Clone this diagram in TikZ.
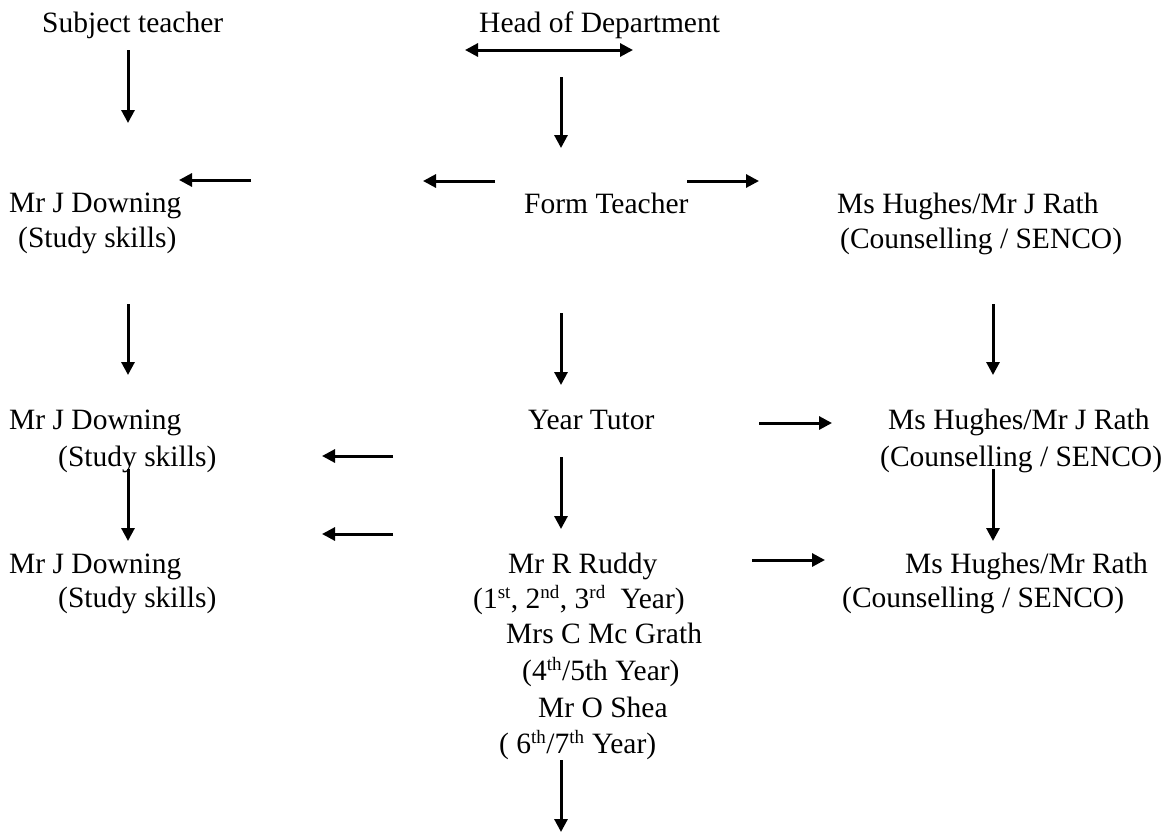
\documentclass[tikz,border=0pt]{standalone}
\usepackage{fontspec}
\setmainfont{Liberation Serif}
\usetikzlibrary{arrows.meta}

\newcommand{\supr}[1]{\textsuperscript{\fontsize{19}{19}\selectfont #1}}

\tikzset{
	lbl/.style={anchor=base west, inner sep=0pt, font=\fontsize{29.5}{35}\selectfont},
	arr/.style={line width=3pt, -{Triangle[length=13pt,width=13pt]}},
	darr/.style={line width=3pt, {Triangle[length=13pt,width=13pt]}-{Triangle[length=13pt,width=13pt]}},
}

\begin{document}
\begin{tikzpicture}[x=1pt, y=-1pt]
		\useasboundingbox (0, 0) rectangle (1161, 833);

		% texts
		\node[lbl] (subj) at (42, 32) {Subject teacher};
		\node[lbl] (hod) at (479, 32) {Head of Department};

		\node[lbl] (down1) at (9, 212) {Mr J Downing};
		\node[lbl] (study1) at (18, 247) {(Study skills)};
		\node[lbl] (form) at (524, 213) {Form Teacher};
		\node[lbl] (rath1) at (837, 213) {Ms Hughes/Mr J Rath};
		\node[lbl] (senco1) at (840, 248) {(Counselling / SENCO)};

		\node[lbl] (down2) at (9, 429) {Mr J Downing};
		\node[lbl] (study2) at (58, 466) {(Study skills)};
		\node[lbl] (tutor) at (528, 429) {Year Tutor};
		\node[lbl] (rath2) at (888, 429) {Ms Hughes/Mr J Rath};
		\node[lbl] (senco2) at (880, 466) {(Counselling / SENCO)};

		\node[lbl] (down3) at (9, 573) {Mr J Downing};
		\node[lbl] (study3) at (58, 607) {(Study skills)};
		\node[lbl] (ruddy) at (508, 573) {Mr R Ruddy};
		\node[lbl] (ruddyyr) at (473, 608) {(1\supr{st}, 2\supr{nd}, 3\supr{rd}\ \ Year)};
		\node[lbl] (grath) at (506, 643) {Mrs C Mc Grath};
		\node[lbl] (grathyr) at (522, 680) {(4\supr{th}/5th Year)};
		\node[lbl] (shea) at (538, 717) {Mr O Shea};
		\node[lbl] (sheayr) at (499, 753) {( 6\supr{th}/7\supr{th} Year)};
		\node[lbl] (rath3) at (905, 573) {Ms Hughes/Mr Rath};
		\node[lbl] (senco3) at (842, 607) {(Counselling / SENCO)};

		% arrow ends
		\coordinate (hodL) at (465, 50);
		\coordinate (hodR) at (633, 50);
		\coordinate (subjA) at (128, 50);
		\coordinate (subjB) at (128, 123);
		\coordinate (hodA) at (561, 77);
		\coordinate (hodB) at (561, 148);

		\coordinate (lftA) at (251, 180);
		\coordinate (lftB) at (179, 180);
		\coordinate (formlA) at (495, 181);
		\coordinate (formlB) at (423, 181);
		\coordinate (formrA) at (687, 181);
		\coordinate (formrB) at (759, 181);

		\coordinate (colaA) at (128, 304);
		\coordinate (colaB) at (128, 375);
		\coordinate (colbA) at (561, 313);
		\coordinate (colbB) at (561, 385);
		\coordinate (colcA) at (993, 304);
		\coordinate (colcB) at (993, 375);

		\coordinate (tutrA) at (759, 423);
		\coordinate (tutrB) at (832, 423);
		\coordinate (tutlA) at (393, 456);
		\coordinate (tutlB) at (322, 456);
		\coordinate (lowaA) at (128, 469);
		\coordinate (lowaB) at (128, 541);
		\coordinate (lowbA) at (561, 457);
		\coordinate (lowbB) at (561, 529);
		\coordinate (lowcA) at (993, 469);
		\coordinate (lowcB) at (993, 541);
		\coordinate (rudlA) at (393, 534);
		\coordinate (rudlB) at (322, 534);
		\coordinate (rudrA) at (752, 560);
		\coordinate (rudrB) at (825, 560);
		\coordinate (endA) at (561, 760);
		\coordinate (endB) at (561, 832);

		% arrows
		\draw[darr] (hodL) -- (hodR);
		\draw[arr] (subjA) -- (subjB);
		\draw[arr] (hodA) -- (hodB);
		\draw[arr] (lftA) -- (lftB);
		\draw[arr] (formlA) -- (formlB);
		\draw[arr] (formrA) -- (formrB);
		\draw[arr] (colaA) -- (colaB);
		\draw[arr] (colbA) -- (colbB);
		\draw[arr] (colcA) -- (colcB);
		\draw[arr] (tutrA) -- (tutrB);
		\draw[arr] (tutlA) -- (tutlB);
		\draw[arr] (lowaA) -- (lowaB);
		\draw[arr] (lowbA) -- (lowbB);
		\draw[arr] (lowcA) -- (lowcB);
		\draw[arr] (rudlA) -- (rudlB);
		\draw[arr] (rudrA) -- (rudrB);
		\draw[arr] (endA) -- (endB);
	\end{tikzpicture}
\end{document}
